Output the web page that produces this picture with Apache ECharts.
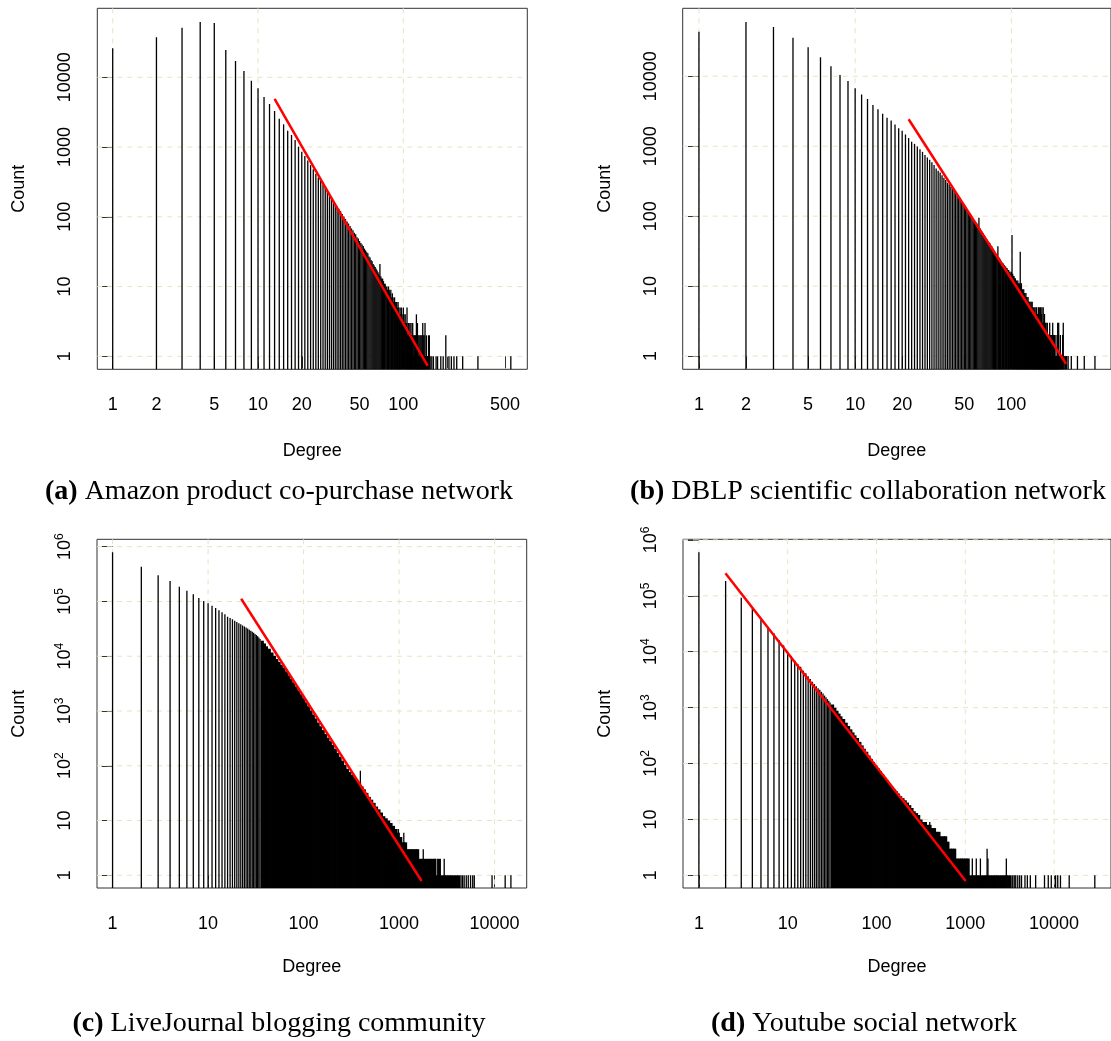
<!DOCTYPE html>
<html><head><meta charset="utf-8">
<script src="https://cdn.jsdelivr.net/npm/echarts@6/dist/echarts.min.js"></script>
<style>html,body{margin:0;padding:0;background:#fff}#c{width:1111px;height:1041px}</style>
</head><body><div id="c"></div>
<script>
// ---------------- DATA ----------------
// (a) Amazon: counts for degree 1..151 (index+1 = degree), then sparse tail
const amazonCnt = [26000,37400,51400,62100,60000,24600,17100,12300,8940,6950,
 5220,4140,3290,2550,2120,1715,1490,1260,1010,857,
 745,640,550,480,415,365,330,290,262,232,
 212,190,172,158,142,130,121,110,101,93,
 86,80,74,68,64,59,56,51,49,45,
 42,40,38,35,33,31,30,27,26,24,
 23,21,20,19,18,17,16,15,21,14,
 13,13,12,11,11,10,10,9,10,9,
 8,9,7,8,7,6,7,6,5,6,
 5,6,5,4,5,4,5,4,3,5,
 4,3,4,3,3,5,2,3,3,2,
 3,2,3,2,2,3,1,2,2,1,
 2,2,4,1,3,2,1,2,1,2,
 1,2,1,2,1,3,2,1,2,1,
 3,1,1,2,0,1,1,0,2,1,
 2];
const amazonTailDeg = [153,157,161,168,172,181,188,196,206,214,223,233,256,326,549];
const amazonTailCnt = [1,1,1,1,1,1,1,2,1,1,1,1,1,1,1];
const amazonFitDeg = [13.0, 147];
const amazonFitCnt = [4890, 0.73];

// (b) DBLP: counts for degree 1..200, then tail
const dblpCnt = [43400,59700,50600,35600,25900,18700,13900,10400,8570,6740,
 5460,4740,3890,3380,2920,2540,2320,2040,1810,1660,
 1470,1310,1160,1080,990,905,830,750,690,640,
 590,540,480,445,420,385,355,330,300,285,
 262,245,228,210,196,185,172,160,150,142,
 133,125,118,110,104,98,92,88,83,79,
 74,95,67,63,60,57,54,51,48,46,
 44,42,41,38,37,35,33,32,30,29,
 28,37,26,25,24,23,22,21,21,20,
 19,19,18,18,17,17,16,16,15,16,
 54,15,14,14,13,13,12,12,11,12,
 11,10,11,31,10,11,9,9,8,9,
 8,8,7,8,7,7,6,7,6,6,
 5,6,5,6,5,6,4,5,4,5,
 4,5,3,4,5,3,4,3,5,3,
 5,2,4,5,3,4,5,2,3,5,
 2,3,4,2,3,2,3,2,1,3,
 2,1,2,1,2,3,1,2,1,2,
 1,2,1,3,1,2,1,1,2,1,
 0,1,2,1,1,0,1,3,1,2];
const dblpTailDeg = [201,202,204,206,208,210,213,215,218,222,226,231,242,265,293,343];
const dblpTailCnt = [3,1,1,2,1,1,2,3,1,1,1,1,1,1,1,1];
const dblpFitDeg = [22.0, 224];
const dblpFitCnt = [2430, 0.776];

// (c) LiveJournal: degree 1..35 individually, dense region as bins (edges + max count), tail spikes
const ljCnt = [789000,431000,300000,236000,186000,157000,135000,116000,102000,92500,
 83600,75900,68900,63400,58200,52700,49900,47200,44500,42200,
 40000,38200,36500,34900,33500,32100,30600,29300,28000,26800,
 25500,24300,23200,22000,20700];
const ljBinEdges = [36,38,40,42,45,48,51,54,57,60,64,68,72,76,81,86,91,97,103,109,
 116,123,130,138,146,155,165,175,185,196,208,221,234,248,263,279,296,314,333,353,
 374,397,421,446,473,501,531,563,597,633,671,711,754,799,847,898,952,1009,1070,1134,
 1202,1274,1350,1431,1517,1608,1705,1807,1915,2030,2152,2281,2418,2563,2717,2880,3053,3236,3430,3636,
 3854,4085,4330];
const ljBinCnt = [19200,17100,15200,13700,11700,10200,8890,7850,6970,6230,
 5270,4480,3840,3310,2790,2370,2030,1700,1440,1220,
 1020,859,731,614,524,448,379,325,281,241,
 204,172,146,124,104,88,77,68,60,54,
 48,42,37,32,27,24,21,18,16,14,
 12,11,10,9,8,7,6,5,4,4,
 3,3,3,3,3,2,2,2,2,2,
 2,2,1,2,1,1,1,1,1,1,1,1];
const ljTailDeg = [393,981,1120,1790,2400,2510,2966,4450,4620,4800,5050,5300,5600,5900,6125,9400,12900,14815];
const ljTailCnt = [81,7,6,3,2,2,2,1,1,1,1,1,1,1,1,1,1,1];
const ljFitDeg = [22.2, 1722];
const ljFitCnt = [112200, 0.787];

// (d) Youtube
const ytCnt = [600000,184000,92500,61300,36900,27700,21300,16200,13000,10000,
 8380,6900,6030,5400,4570,4100,3650,3250,2900,2640,
 2420,2220,2080,1920,1780,1640,1530,1420,1320,1230];
const ytBinEdges = [31,33,35,37,39,41,44,47,50,53,56,59,63,67,71,75,80,85,90,95,
 101,107,114,121,128,136,144,153,162,172,182,193,205,217,230,244,259,274,291,308,
 327,346,367,389,413,437,464,491,521,552,585,620,657,697,739,783,830,880,933,989,
 1048,1111,1178,1248,1323,1402,1486,1575,1670,1770,1876,1989,2108,2234,2368,2510,2661,2821,2990,3169,3300];
const ytBinCnt = [1135,995,879,782,698,627,538,467,408,360,
 319,285,244,211,184,162,139,121,106,94,
 83,73,64,56,50,44,39,35,32,29,
 26,24,22,20,18,16,14,13,12,10,
 9,9,8,8,7,7,6,6,5,5,
 5,4,3,3,3,2,2,2,2,2,
 2,1,1,1,1,1,1,1,1,1,
 1,1,1,1,1,1,1,1,1,1];
const ytTailDeg = [398,1200,1330,1480,1760,1800,2900,3420,3560,3700,3900,4100,4300,4700,5000,5400,6200,7800,8600,9300,10400,11000,11800,14800,28754];
const ytTailCnt = [9,2,2,2,3,2,2,1,1,1,1,1,1,1,1,1,1,1,1,1,1,1,1,1,1];
const ytFitDeg = [1.99, 1010];
const ytFitCnt = [252600, 0.79];

// tick / label values
const xTicksA = [1,2,5,10,20,50,100,200,500];
const xLabelsA = [1,2,5,10,20,50,100,500];
const xTicksB = [1,2,5,10,20,50,100,200];
const xLabelsB = [1,2,5,10,20,50,100];
const yTicksAB = [1,10,100,1000,10000];
const xTicksCD = [1,10,100,1000,10000];
const yTicksCD = [1,10,100,1000,10000,100000,1000000];
const gridXAB = [1,10,100];
const gridXCD = [1,10,100,1000,10000];

const captions = [
  {bold:'(a)', text:' Amazon product co-purchase network'},
  {bold:'(b)', text:' DBLP scientific collaboration network'},
  {bold:'(c)', text:' LiveJournal blogging community'},
  {bold:'(d)', text:' Youtube social network'}
];

// ---------------- BUILD ----------------
const L = Math.log10;
const SANS = 'Liberation Sans, Arial, Helvetica, sans-serif';

function perDegree(cnts) {
  const out = [];
  cnts.forEach((c, i) => { if (c > 0) out.push([L(i + 1), L(c)]); });
  return out;
}
function pairs(ds, cs) {
  const out = [];
  ds.forEach((d, i) => { if (cs[i] > 0) out.push([L(d), L(cs[i])]); });
  return out;
}
function bins(edges, cs) {
  const out = [];
  cs.forEach((c, i) => out.push([L(edges[i]), L(edges[i + 1]), L(c)]));
  return out;
}

function spikeItem(params, api) {
  const cs = params.coordSys;
  const p = api.coord([api.value(0), api.value(1)]);
  return {type:'line', shape:{x1:p[0], y1:p[1], x2:p[0], y2:cs.y + cs.height},
          style:{stroke:'#000', lineWidth:1.3}};
}
function binItem(params, api) {
  const cs = params.coordSys;
  const p0 = api.coord([api.value(0), api.value(2)]);
  const p1 = api.coord([api.value(1), api.value(2)]);
  // slight overlap so neighbouring bins do not leave anti-aliased seams
  return {type:'rect', shape:{x:p0[0] - 0.4, y:p0[1], width:Math.max(p1[0] - p0[0], 1) + 0.8, height:cs.y + cs.height - p0[1]},
          style:{fill:'#000'}};
}
const GRIDSTYLE = {stroke:'#E9E2C4', lineWidth:1, lineDash:[5,5]};
function vGridItem(params, api) {
  const cs = params.coordSys;
  const p = api.coord([api.value(0), api.value(1)]);
  return {type:'line', shape:{x1:p[0], y1:cs.y, x2:p[0], y2:cs.y + cs.height}, style:GRIDSTYLE};
}
function hGridItem(params, api) {
  const cs = params.coordSys;
  const p = api.coord([api.value(0), api.value(1)]);
  return {type:'line', shape:{x1:cs.x, y1:p[1], x2:cs.x + cs.width, y2:p[1]}, style:GRIDSTYLE};
}

const plainFmt = v => String(Math.round(Math.pow(10, v)));
const supFmt = v => {
  const e = Math.round(v);
  return e <= 1 ? '{b|' + Math.round(Math.pow(10, v)) + '}' : '{b|10}{s|' + e + '}';
};

const panels = [
  {grid:{left:97.3, top:8.3, width:430, height:361}, xr:[-0.106, 2.853], yr:[-0.186, 4.989],
   xTicks:xTicksA, xLabels:xLabelsA, yTicks:yTicksAB, sup:false, gx:gridXAB, gy:yTicksAB,
   spikes:perDegree(amazonCnt).concat(pairs(amazonTailDeg, amazonTailCnt)), bins:[],
   fit:[[L(amazonFitDeg[0]), L(amazonFitCnt[0])],[L(amazonFitDeg[1]), L(amazonFitCnt[1])]]},
  {grid:{left:682.7, top:8.3, width:430, height:361}, xr:[-0.104, 2.638], yr:[-0.189, 4.971],
   xTicks:xTicksB, xLabels:xLabelsB, yTicks:yTicksAB, sup:false, gx:gridXAB, gy:yTicksAB,
   spikes:perDegree(dblpCnt).concat(pairs(dblpTailDeg, dblpTailCnt)), bins:[],
   fit:[[L(dblpFitDeg[0]), L(dblpFitCnt[0])],[L(dblpFitDeg[1]), L(dblpFitCnt[1])]]},
  {grid:{left:97, top:539.3, width:429.7, height:348.7}, xr:[-0.163, 4.336], yr:[-0.232, 6.135],
   xTicks:xTicksCD, xLabels:xTicksCD, yTicks:yTicksCD, sup:true, gx:gridXCD, gy:yTicksCD,
   spikes:perDegree(ljCnt).concat(pairs(ljTailDeg, ljTailCnt)), bins:bins(ljBinEdges, ljBinCnt),
   fit:[[L(ljFitDeg[0]), L(ljFitCnt[0])],[L(ljFitDeg[1]), L(ljFitCnt[1])]]},
  {grid:{left:683, top:539.3, width:430, height:348.7}, xr:[-0.179, 4.641], yr:[-0.227, 6.011],
   xTicks:xTicksCD, xLabels:xTicksCD, yTicks:yTicksCD, sup:true, gx:gridXCD, gy:yTicksCD,
   spikes:perDegree(ytCnt).concat(pairs(ytTailDeg, ytTailCnt)), bins:bins(ytBinEdges, ytBinCnt),
   fit:[[L(ytFitDeg[0]), L(ytFitCnt[0])],[L(ytFitDeg[1]), L(ytFitCnt[1])]]}
];

const grids = [], xAxes = [], yAxes = [], series = [];
panels.forEach((p, i) => {
  grids.push(Object.assign({show:true, borderColor:'#333', borderWidth:1, backgroundColor:'transparent', containLabel:false}, p.grid));
  xAxes.push({gridIndex:i, type:'value', min:p.xr[0], max:p.xr[1],
    axisLine:{show:false},
    axisTick:{show:true, customValues:p.xTicks.map(L), length:12, lineStyle:{color:'#333', width:1}},
    axisLabel:{show:true, customValues:p.xLabels.map(L), formatter:plainFmt, fontFamily:SANS, fontSize:18, color:'#000', margin:27},
    splitLine:{show:false},
    name:'Degree', nameLocation:'middle', nameGap:i < 2 ? 73 : 70,
    nameTextStyle:{fontFamily:SANS, fontSize:18, color:'#000'}});
  yAxes.push({gridIndex:i, type:'value', min:p.yr[0], max:p.yr[1],
    axisLine:{show:false},
    axisTick:{show:true, customValues:p.yTicks.map(L), length:11, lineStyle:{color:'#333', width:1}},
    axisLabel:{show:true, customValues:p.yTicks.map(L), rotate:90,
      formatter:p.sup ? supFmt : plainFmt, fontFamily:SANS, fontSize:18, color:'#000', margin:23,
      rich:{b:{fontFamily:SANS, fontSize:18, color:'#000', padding:[2,0,0,0]}, s:{fontFamily:SANS, fontSize:12, color:'#000', verticalAlign:'top'}}},
    splitLine:{show:false},
    name:'Count', nameLocation:'middle', nameGap:69,
    nameTextStyle:{fontFamily:SANS, fontSize:18, color:'#000'}});
  series.push({type:'custom', xAxisIndex:i, yAxisIndex:i, z:1, silent:true, renderItem:vGridItem,
    data:p.gx.map(g => [L(g), 0]), encode:{x:0, y:1}});
  series.push({type:'custom', xAxisIndex:i, yAxisIndex:i, z:1, silent:true, renderItem:hGridItem,
    data:p.gy.map(g => [0, L(g)]), encode:{x:0, y:1}});
  if (p.bins.length) {
    series.push({type:'custom', xAxisIndex:i, yAxisIndex:i, z:2, silent:true, renderItem:binItem,
      data:p.bins, encode:{x:[0,1], y:2}});
  }
  series.push({type:'custom', xAxisIndex:i, yAxisIndex:i, z:3, silent:true, renderItem:spikeItem,
    data:p.spikes, encode:{x:0, y:1}});
  series.push({type:'line', xAxisIndex:i, yAxisIndex:i, z:4, silent:true, symbol:'none',
    lineStyle:{color:'#FF0000', width:2.5}, data:p.fit});
});

const capPos = [[279, 492], [868, 492], [279, 1023.5], [864, 1023.5]];
const graphics = captions.map((c, i) => ({
  type:'text', x:capPos[i][0], y:capPos[i][1], silent:true,
  style:{text:'{bb|' + c.bold + '}' + c.text, fontFamily:'Liberation Serif, serif', fontSize:28, fill:'#000',
    align:'center', verticalAlign:'middle',
    rich:{bb:{fontFamily:'Liberation Serif, serif', fontSize:28, fontWeight:'bold', fill:'#000'}}}
}));

const chart = echarts.init(document.getElementById('c'), null, {renderer:'canvas'});
chart.setOption({
  animation:false, backgroundColor:'#fff',
  grid:grids, xAxis:xAxes, yAxis:yAxes, series:series, graphic:graphics
});
</script></body></html>
